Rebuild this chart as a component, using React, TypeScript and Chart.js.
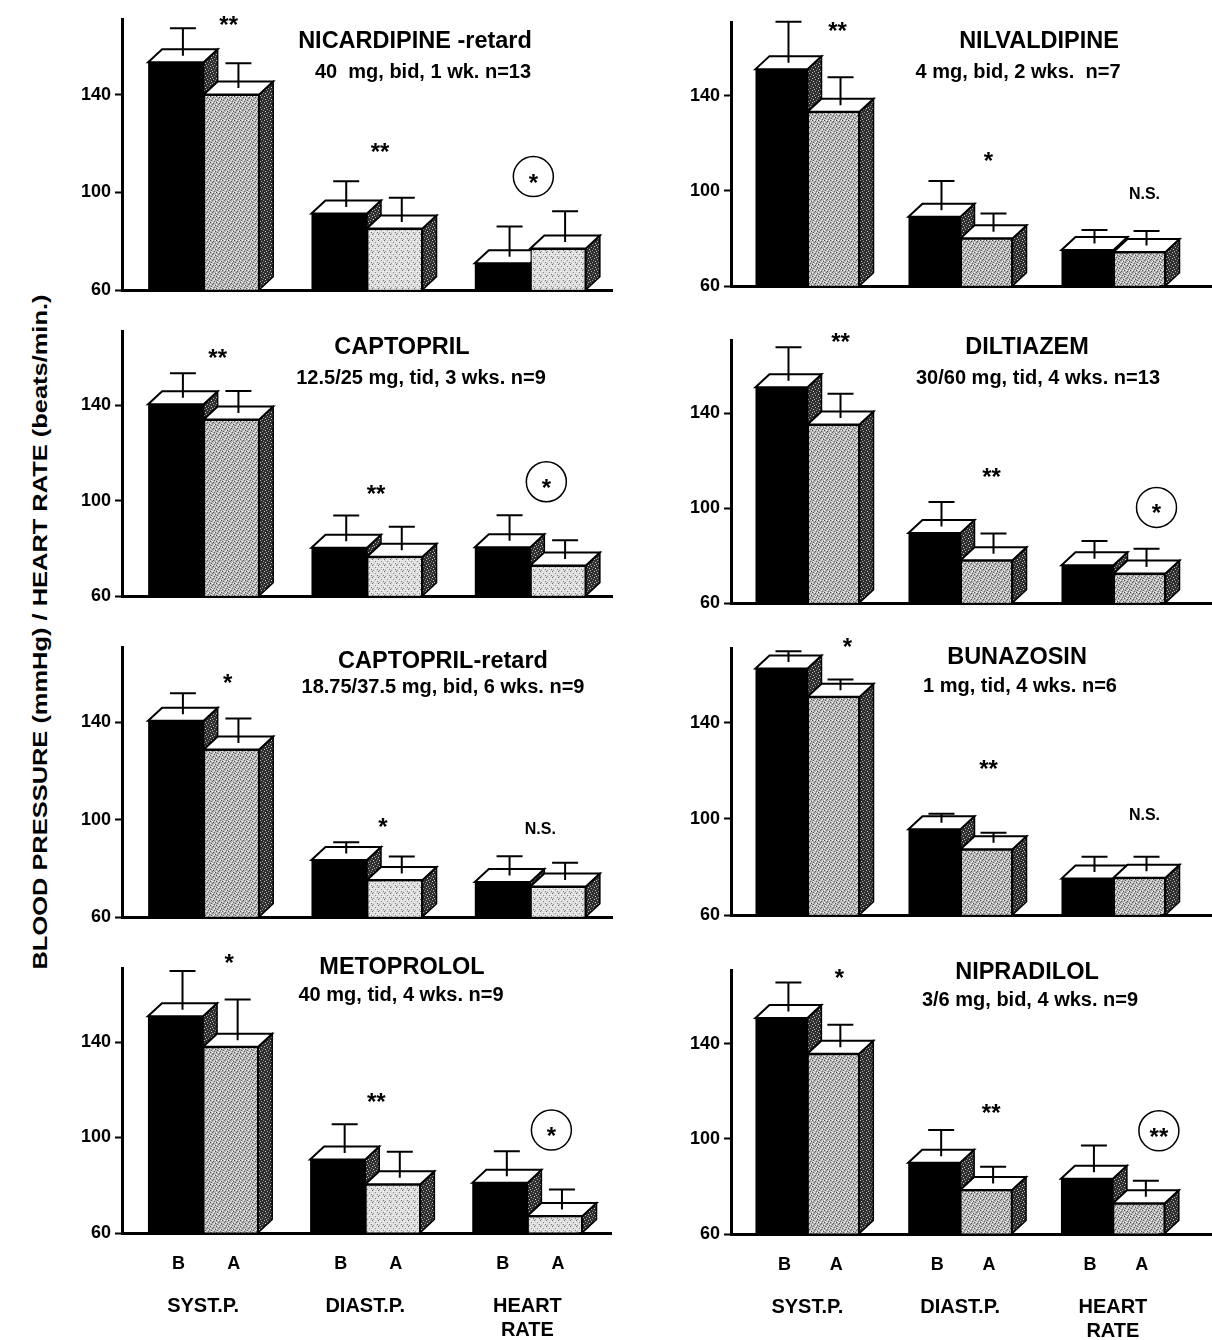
import React, { useEffect, useMemo, useRef } from "react";
import { Chart, registerables } from "chart.js";

Chart.register(...registerables);

// ---------------- data ----------------
const CATEGORIES: (string | string[])[] = ["SYST.P.", "DIAST.P.", ["HEART", "RATE"]];
const GROUP_LABELS = ["B", "A"];
const Y_TICKS = [60, 100, 140];
const Y_MIN = 60;
const Y_MAX = 171;
const Y_TITLE = "BLOOD PRESSURE (mmHg) / HEART RATE (beats/min.)";

// panel order: row by row, left then right
const TITLES = [
  "NICARDIPINE -retard",
  "NILVALDIPINE",
  "CAPTOPRIL",
  "DILTIAZEM",
  "CAPTOPRIL-retard",
  "BUNAZOSIN",
  "METOPROLOL",
  "NIPRADILOL",
];
const SUBTITLES = [
  "40  mg, bid, 1 wk. n=13",
  "4 mg, bid, 2 wks.  n=7",
  "12.5/25 mg, tid, 3 wks. n=9",
  "30/60 mg, tid, 4 wks. n=13",
  "18.75/37.5 mg, bid, 6 wks. n=9",
  "1 mg, tid, 4 wks. n=6",
  "40 mg, tid, 4 wks. n=9",
  "3/6 mg, bid, 4 wks. n=9",
];
// B = before, A = after ; [syst, diast, heart rate]
const BEFORE = [
  [153.3, 91.4, 71.0],
  [151.2, 89.2, 75.2],
  [140.3, 80.3, 80.5],
  [151.1, 89.6, 76.0],
  [140.7, 83.5, 74.5],
  [162.5, 95.7, 75.2],
  [150.8, 90.8, 81.0],
  [150.8, 90.0, 83.2],
];
const AFTER = [
  [140.1, 85.3, 77.1],
  [133.3, 80.1, 74.4],
  [134.0, 76.5, 72.9],
  [135.4, 78.1, 72.5],
  [128.9, 75.3, 72.6],
  [150.7, 87.4, 75.6],
  [138.0, 80.4, 67.1],
  [135.8, 78.5, 72.9],
];
const BEFORE_SD = [
  [8.6, 7.9, 9.7],
  [14.4, 9.5, 2.9],
  [7.6, 8.0, 7.9],
  [11.4, 7.6, 4.8],
  [6.0, 2.0, 5.2],
  [1.8, 1.0, 3.7],
  [13.5, 9.3, 7.8],
  [9.5, 8.3, 8.5],
];
const AFTER_SD = [
  [7.5, 7.2, 9.9],
  [9.0, 5.0, 3.3],
  [6.4, 7.1, 5.1],
  [7.5, 5.8, 5.0],
  [7.4, 4.3, 4.4],
  [1.8, 1.5, 3.3],
  [14.4, 8.2, 5.7],
  [6.7, 4.3, 4.0],
];
// significance marks; "(..)" = circled
const SIGNIF = [
  ["**", "**", "(*)"],
  ["**", "*", "N.S."],
  ["**", "**", "(*)"],
  ["**", "**", "(*)"],
  ["*", "*", "N.S."],
  ["*", "**", "N.S."],
  ["*", "**", "(*)"],
  ["*", "**", "(**)"],
];
// vertical anchor of each mark, in axis units
const SIGNIF_Y = [
  [171, 118.8, 106.5],
  [169.6, 115.2, 98.5],
  [162, 105.4, 107.9],
  [172.8, 115.6, 100.4],
  [158.8, 99.3, 96],
  [174, 123, 101.5],
  [175.5, 117.3, 103.1],
  [170.3, 113.5, 103.4],
];

// ---------------- layout / style ----------------
const FONT = '"Liberation Sans", Arial, Helvetica, sans-serif';
const DX = 14;
const DY = 13;

const COLUMNS = [
  { left: 0, width: 625, axisX: 122, plotRight: 612, extendTo: 612 },
  { left: 620, width: 592, axisX: 731, plotRight: 1190, extendTo: 1212 },
];

const LAYOUT = [
  { col: 0, top: 19, bottom: 291, last: false, title: [415, 42], sub: [423, 72], sigDx: [25, 13, 3] },
  { col: 1, top: 22, bottom: 287, last: false, title: [1039, 42], sub: [1018, 72], sigDx: [30, 28, 31] },
  { col: 0, top: 331, bottom: 597, last: false, title: [402, 348], sub: [421, 378], sigDx: [14, 9, 16] },
  { col: 1, top: 340, bottom: 604, last: false, title: [1027, 348], sub: [1038, 378], sigDx: [33, 31, 43] },
  { col: 0, top: 647, bottom: 918, last: false, title: [443, 662], sub: [443, 687], sigDx: [24, 16, 10] },
  { col: 1, top: 648, bottom: 916, last: false, title: [1017, 658], sub: [1020, 686], sigDx: [40, 28, 31] },
  { col: 0, top: 968, bottom: 1233, last: true, title: [402, 968], sub: [401, 995], sigDx: [26, 11, 24] },
  { col: 1, top: 970, bottom: 1234, last: true, title: [1027, 973], sub: [1030, 1000], sigDx: [32, 31, 46] },
];

function makePattern(ctx: CanvasRenderingContext2D, base: string, dots: [number, number, string][], size: number) {
  const c = document.createElement("canvas");
  c.width = size;
  c.height = size;
  const g = c.getContext("2d")!;
  g.fillStyle = base;
  g.fillRect(0, 0, size, size);
  dots.forEach(([x, y, col]) => {
    g.fillStyle = col;
    g.fillRect(x, y, 1, 1);
  });
  return ctx.createPattern(c, "repeat")!;
}

function Panel({ idx }: { idx: number }) {
  const ref = useRef<HTMLCanvasElement>(null);
  const L = LAYOUT[idx];
  const col = COLUMNS[L.col];
  const canvasTop = Math.max(0, L.top - 36);
  const canvasBottom = L.last ? 1340 : L.bottom + 14;
  const height = canvasBottom - canvasTop;

  useEffect(() => {
    const canvas = ref.current!;
    const ctx = canvas.getContext("2d")!;
    const medium = makePattern(
      ctx,
      "#b6b6b6",
      [
        [0, 0, "#4a4a4a"], [3, 1, "#555"], [5, 3, "#4a4a4a"], [1, 4, "#5a5a5a"], [4, 5, "#666"], [2, 2, "#707070"],
        [2, 0, "#fff"], [5, 0, "#eee"], [0, 2, "#f4f4f4"], [4, 3, "#fff"], [1, 5, "#eee"], [3, 4, "#f0f0f0"],
      ],
      6
    );
    const light = makePattern(
      ctx,
      "#dcdcdc",
      [
        [0, 0, "#6a6a6a"], [3, 2, "#8a8a8a"], [5, 4, "#777"], [1, 5, "#9a9a9a"],
        [2, 1, "#fff"], [5, 1, "#fff"], [0, 3, "#fff"], [3, 5, "#fff"], [4, 3, "#f6f6f6"],
      ],
      6
    );
    const side = makePattern(
      ctx,
      "#2e2e2e",
      [
        [0, 0, "#c8c8c8"], [3, 1, "#aaa"], [1, 3, "#d0d0d0"], [4, 4, "#999"], [2, 5, "#bbb"], [5, 2, "#888"],
      ],
      6
    );
    const aFill = L.col === 0 ? [medium, light, light] : [medium, medium, medium];

    const drawFaces = (c: CanvasRenderingContext2D, ys: any, bar: any, value: number, sd: number) => {
      const { x, y, base, width } = bar.getProps(["x", "y", "base", "width"], true);
      const l = x - width / 2;
      const r = x + width / 2;
      c.lineJoin = "miter";
      c.strokeStyle = "#000";
      // side face
      c.beginPath();
      c.moveTo(r, y);
      c.lineTo(r + DX, y - DY);
      c.lineTo(r + DX, base - DY);
      c.lineTo(r, base);
      c.closePath();
      c.fillStyle = side;
      c.fill();
      c.lineWidth = 1.5;
      c.stroke();
      // top face
      c.beginPath();
      c.moveTo(l, y);
      c.lineTo(l + DX, y - DY);
      c.lineTo(r + DX, y - DY);
      c.lineTo(r, y);
      c.closePath();
      c.fillStyle = "#fff";
      c.fill();
      c.lineWidth = 2;
      c.stroke();
      // error bar
      const ex = x + DX / 2;
      const yTop = ys.getPixelForValue(value + sd) - DY;
      c.beginPath();
      c.lineWidth = 2;
      c.moveTo(ex, y - DY / 2);
      c.lineTo(ex, yTop);
      c.moveTo(ex - 13, yTop);
      c.lineTo(ex + 13, yTop);
      c.stroke();
    };

    const deco = {
      id: "deco",
      afterDatasetsDraw(chart: any) {
        const c = chart.ctx;
        const ys = chart.scales.y;
        const metaB = chart.getDatasetMeta(0);
        const metaA = chart.getDatasetMeta(1);
        c.save();
        metaB.data.forEach((bar: any, i: number) => {
          drawFaces(c, ys, bar, BEFORE[idx][i], BEFORE_SD[idx][i]);
          // the "after" bar stands in front of this bar's side face
          const a = metaA.data[i];
          a.draw(c);
          drawFaces(c, ys, a, AFTER[idx][i], AFTER_SD[idx][i]);
        });
        c.restore();
      },
      afterDraw(chart: any) {
        const c = chart.ctx;
        const xs = chart.scales.x;
        const ys = chart.scales.y;
        const area = chart.chartArea;
        c.save();
        c.fillStyle = "#000";
        c.strokeStyle = "#000";
        // baseline extension beyond the plot area
        if (col.extendTo - col.left > area.right) {
          const by = Math.round(area.bottom) + 0.5;
          c.lineWidth = 3;
          c.beginPath();
          c.moveTo(area.right - 30, by);
          c.lineTo(col.extendTo - col.left, by);
          c.stroke();
        }
        // titles
        c.textAlign = "center";
        c.textBaseline = "middle";
        c.font = `bold 23.5px ${FONT}`;
        c.fillText(TITLES[idx], L.title[0] - col.left, L.title[1] - canvasTop);
        c.font = `bold 20px ${FONT}`;
        c.fillText(SUBTITLES[idx], L.sub[0] - col.left, L.sub[1] - canvasTop);
        // significance marks
        SIGNIF[idx].forEach((s, i) => {
          const cx = xs.getPixelForValue(i) + L.sigDx[i];
          const cy = ys.getPixelForValue(SIGNIF_Y[idx][i]);
          const circled = s.startsWith("(");
          const txt = circled ? s.slice(1, -1) : s;
          if (circled) {
            c.beginPath();
            c.lineWidth = 1.5;
            c.arc(cx, cy, 20, 0, Math.PI * 2);
            c.stroke();
          }
          if (txt === "N.S.") {
            c.font = `bold 16px ${FONT}`;
            c.textBaseline = "middle";
            c.fillText(txt, cx, cy);
          } else {
            c.font = `bold 24px ${FONT}`;
            c.textBaseline = "alphabetic";
            c.fillText(txt, cx, cy + 0.58 * 24);
          }
        });
        // B / A labels under bars
        if (L.last) {
          c.font = `bold 18px ${FONT}`;
          c.textBaseline = "middle";
          [0, 1].forEach((d) => {
            chart.getDatasetMeta(d).data.forEach((bar: any) => {
              c.fillText(GROUP_LABELS[d], bar.x + 3, area.bottom + 31);
            });
          });
        }
        c.restore();
      },
    };

    const chart = new Chart(canvas, {
      type: "bar",
      data: {
        labels: CATEGORIES as any,
        datasets: [
          {
            label: GROUP_LABELS[0],
            data: BEFORE[idx],
            base: Y_MIN,
            backgroundColor: "#000",
            borderWidth: 0,
            categoryPercentage: 0.68,
            barPercentage: 1.0,
          },
          {
            label: GROUP_LABELS[1],
            data: AFTER[idx],
            base: Y_MIN,
            backgroundColor: aFill as any,
            borderColor: "#000",
            borderWidth: 1.5,
            categoryPercentage: 0.68,
            barPercentage: 1.0,
          },
        ],
      },
      options: {
        animation: false,
        responsive: false,
        maintainAspectRatio: false,
        events: [],
        layout: {
          padding: {
            left: 0,
            right: col.width - (col.plotRight - col.left),
            top: L.top - canvasTop,
            bottom: 0,
          },
        },
        plugins: {
          legend: { display: false },
          tooltip: { enabled: false },
          title: { display: false },
        },
        scales: {
          x: {
            type: "category",
            z: 1,
            grid: { display: false, drawTicks: false },
            border: { display: true, width: 3, color: "#000" },
            ticks: {
              display: L.last,
              color: "#000",
              padding: 61,
              maxRotation: 0,
              autoSkip: false,
              font: { family: FONT, size: 20, weight: "bold", lineHeight: 1.2 },
            },
            afterFit: (s: any) => {
              s.height = canvasBottom - L.bottom;
            },
          },
          y: {
            min: Y_MIN,
            max: Y_MAX,
            z: 1,
            afterBuildTicks: (s: any) => {
              s.ticks = Y_TICKS.map((v) => ({ value: v }));
            },
            grid: { drawOnChartArea: false, drawTicks: true, tickLength: 7, tickWidth: 2, color: "#000" },
            border: { display: true, width: 3, color: "#000" },
            ticks: { color: "#000", padding: 4, font: { family: FONT, size: 18, weight: "bold" } },
            afterFit: (s: any) => {
              s.width = col.axisX - col.left;
            },
          },
        },
      } as any,
      plugins: [deco],
    });
    return () => chart.destroy();
  }, []);

  return (
    <canvas
      ref={ref}
      width={col.width}
      height={height}
      style={{ position: "absolute", left: col.left, top: canvasTop, width: col.width, height }}
    />
  );
}

function YTitle() {
  const fontPx = 21;
  const k = useMemo(() => {
    const c = document.createElement("canvas").getContext("2d")!;
    c.font = `bold ${fontPx}px ${FONT}`;
    const w = c.measureText(Y_TITLE).width;
    return w > 0 ? 675 / w : 1;
  }, []);
  return (
    <div
      style={{
        position: "absolute",
        left: 40 - 400,
        top: 632 - 12,
        width: 800,
        height: 24,
        lineHeight: "24px",
        textAlign: "center",
        font: `bold ${fontPx}px ${FONT}`,
        whiteSpace: "nowrap",
        color: "#000",
        transform: `rotate(-90deg) scaleX(${k})`,
        transformOrigin: "50% 50%",
      }}
    >
      {Y_TITLE}
    </div>
  );
}

export default function App() {
  return (
    <div
      style={{
        position: "absolute",
        left: 0,
        top: 0,
        width: 1212,
        height: 1340,
        background: "#fff",
        overflow: "hidden",
      }}
    >
      <YTitle />
      {LAYOUT.map((_, i) => (
        <Panel key={i} idx={i} />
      ))}
    </div>
  );
}
